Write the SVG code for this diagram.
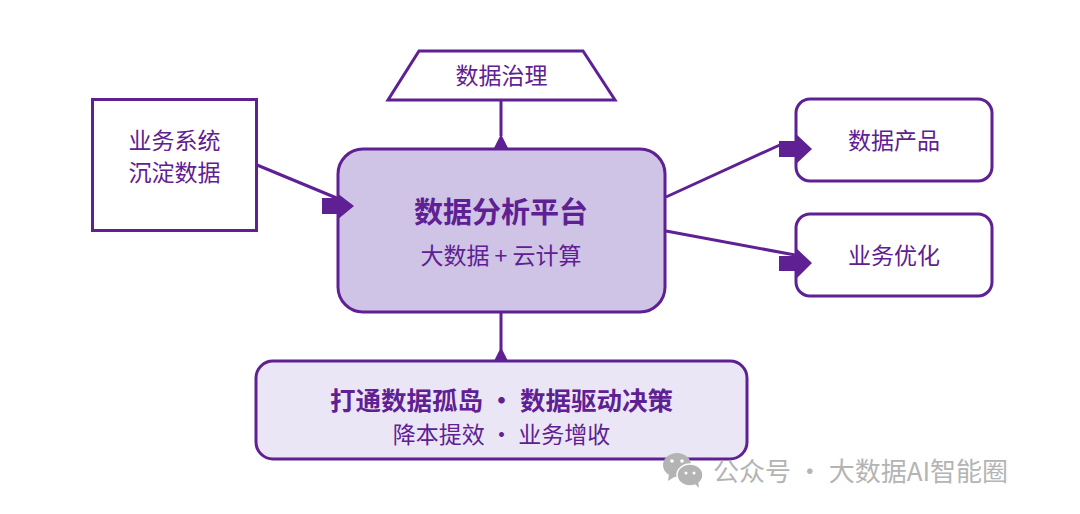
<svg xmlns="http://www.w3.org/2000/svg" width="1080" height="514" viewBox="0 0 1080 514">
<style>
text{font-family:"Noto Sans CJK SC","Noto Sans",sans-serif;fill:#5f2093;text-anchor:middle}
.n{fill:#fff;stroke:#5f2093;stroke-width:3}
.l{fill:none;stroke:#5f2093;stroke-width:3}
.a{fill:#5f2093}
.t{font-size:23px}
.b{font-weight:700}
.w{fill:#b4b4b4;font-size:26px;text-anchor:start}
</style>
<rect width="1080" height="514" fill="#fff"/>
<g id="source"><rect class="n" x="92.500" y="99.500" width="164" height="131"/><text class="t" x="174.500" y="149">业务系统</text><text class="t" x="174.500" y="181">沉淀数据</text></g>
<g id="governance"><polygon class="n" points="419,51 583,51 615,100 388,100"/><text class="t" x="501.500" y="84">数据治理</text></g>
<g id="platform"><rect class="n" x="338" y="149" width="327" height="163" rx="25" style="fill:#cfc3e6"/><text class="b" x="501" y="223" font-size="29">数据分析平台</text><text class="t" x="501" y="264">大数据 + 云计算</text></g>
<g id="product"><rect class="n" x="796" y="99" width="196" height="82" rx="14"/><text class="t" x="894" y="149">数据产品</text></g>
<g id="optimize"><rect class="n" x="796" y="214" width="196" height="82" rx="14"/><text class="t" x="894" y="264">业务优化</text></g>
<g id="outcome"><rect class="n" x="256" y="361" width="491" height="98" rx="17" style="fill:#ebe6f5"/><text class="b" x="501.500" y="410" font-size="25.500">打通数据孤岛 · 数据驱动决策</text><text class="t" x="501.500" y="443">降本提效 · 业务增收</text></g>
<g id="connectors">
<path class="l" d="M257 165 339 199M501 100V136M666 197 782 144M666 231 795 255M501 312V350"/>
<path class="a" d="M322 198H337V193L354 206 337 220V214H322ZM779 141H795V133L812 149 795 165V157H779ZM779 256H795V247L812 263 795 280V271H779ZM501 134 508 148H494ZM501 347 508 361H494Z"/>
</g>
<g id="watermark">
<ellipse cx="677" cy="465" rx="14" ry="12" fill="#b4b4b4"/><path d="M669 474 668 481 676 476Z" fill="#b4b4b4"/>
<ellipse cx="690" cy="475" rx="13" ry="11" stroke="#fff" stroke-width="1.500" fill="#b4b4b4"/><path d="M695 484 699 488 698 481Z" fill="#b4b4b4"/>
<circle cx="672" cy="461" r="1.800" fill="#fff"/><circle cx="682" cy="461" r="1.800" fill="#fff"/><circle cx="686" cy="473" r="1.500" fill="#fff"/><circle cx="694" cy="473" r="1.500" fill="#fff"/>
<text class="w" x="713" y="481">公众号 · 大数据AI智能圈</text>
</g>
</svg>
